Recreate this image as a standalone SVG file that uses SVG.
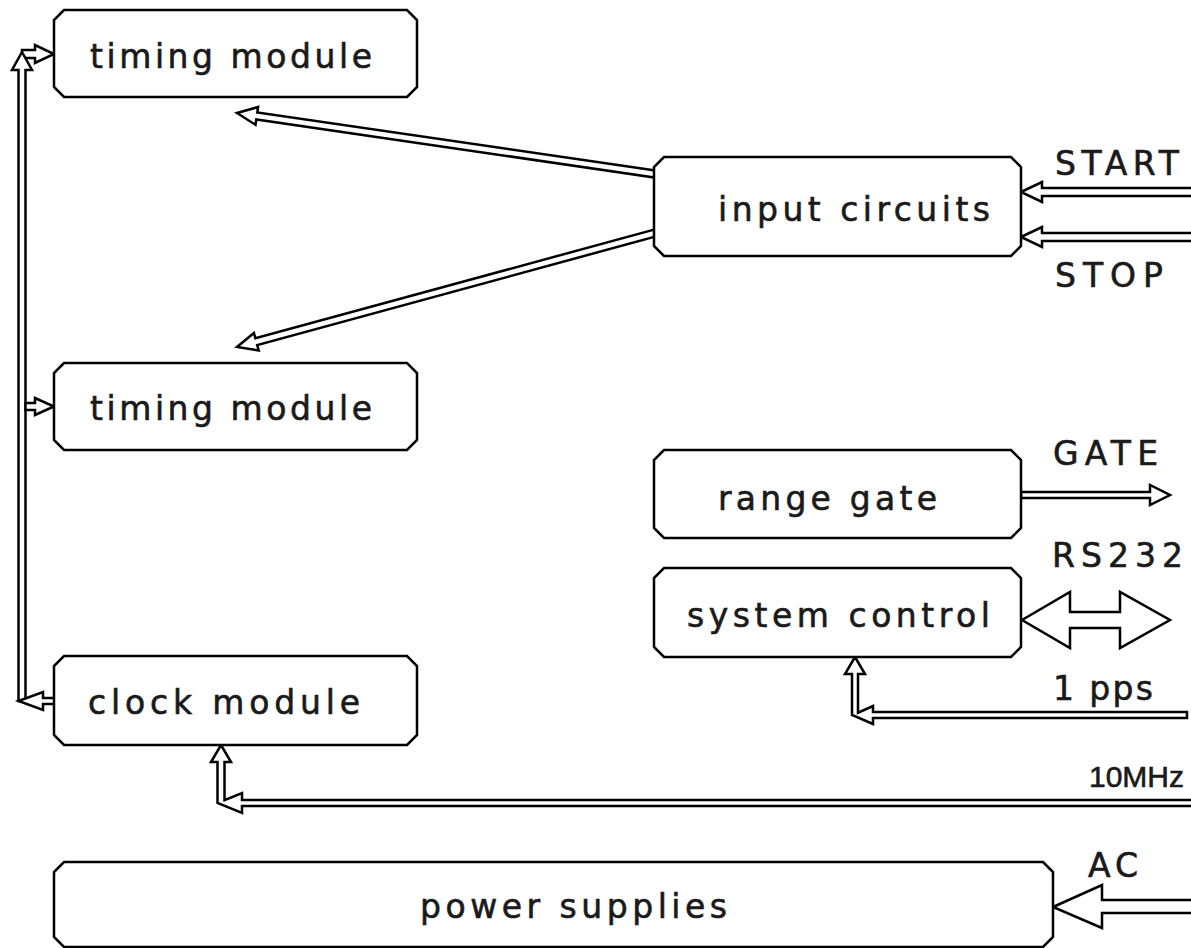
<svg xmlns="http://www.w3.org/2000/svg" width="1191" height="948" viewBox="0 0 1191 948">
<style>
.box{fill:#fff;stroke:#000;stroke-width:2.5;stroke-linejoin:miter}
.arr{fill:#fff;stroke:#000;stroke-width:2.5;stroke-linejoin:miter}
.t{font-family:"DejaVu Sans","Liberation Sans",Arial,sans-serif;font-size:33px;fill:#1a1a1a;stroke:#1a1a1a;stroke-width:0.6}
.n{font-family:"Liberation Sans",Arial,sans-serif;font-size:30px;fill:#1a1a1a;stroke:#1a1a1a;stroke-width:0.6}
</style>
<rect width="1191" height="948" fill="#fff"/>
<g id="connectors">
<polygon class="arr" points="22,50 35,50 35,45 54,54 35,63 35,58 22,58"/>
<polygon class="arr" points="22,52 32,70 25.5,70 25.5,701 18.5,701 18.5,70 12,70"/>
<polygon class="arr" points="25.5,403 35,403 35,398 54,406.5 35,415 35,410 25.5,410"/>
<polygon class="arr" points="18.5,701 43,692 43,698 55,698 55,704 43,704 43,710"/>
<polygon class="arr" points="655.5,170.5 257.3,112.4 258.1,107 237,113 255.5,124.8 256.3,119.4 654.5,177.5"/>
<polygon class="arr" points="654.1,229.6 255.4,338.3 253.9,333 237,347 258.7,350.4 257.2,345.1 655.9,236.4"/>
<polygon class="arr" points="1021,192 1042,182 1042,188 1195,188 1195,196 1042,196 1042,202"/>
<polygon class="arr" points="1021,237 1042,227 1042,233 1195,233 1195,241 1042,241 1042,247"/>
<polygon class="arr" points="1021,492 1150,492 1150,485 1170,495 1150,505 1150,498 1021,498"/>
<polygon class="arr" points="1022,620 1070,592 1070,612 1120,612 1120,592 1170,620 1120,648 1120,628 1070,628 1070,648"/>
<polygon class="arr" points="855,657 865,674 858,674 858,712.75 873,706 873,712 1187,712 1187,718 873,718 873,724 852,715 852,674 845,674"/>
<polygon class="arr" points="221,745 231,762 224.5,762 224.5,800.1 242,793 242,800 1195,800 1195,806 242,806 242,813 217.5,803 217.5,762 211,762"/>
<polygon class="arr" points="1053,907 1102,885 1102,900 1195,900 1195,913 1102,913 1102,928"/>
</g>
<g id="timing1">
<polygon class="box" points="64,10 407,10 417,20 417,87 407,97 64,97 54,87 54,20"/>
<text class="t" x="90" y="68" textLength="282" lengthAdjust="spacing">timing module</text>
</g>
<g id="timing2">
<polygon class="box" points="64,363 407,363 417,373 417,440 407,450 64,450 54,440 54,373"/>
<text class="t" x="90" y="420" textLength="282" lengthAdjust="spacing">timing module</text>
</g>
<g id="clock">
<polygon class="box" points="64,656 407,656 417,666 417,735 407,745 64,745 54,735 54,666"/>
<text class="t" x="88" y="714" textLength="272" lengthAdjust="spacing">clock module</text>
</g>
<g id="input">
<polygon class="box" points="664,157 1011,157 1021,167 1021,246 1011,256 664,256 654,246 654,167"/>
<text class="t" x="718" y="221" textLength="272" lengthAdjust="spacing">input circuits</text>
</g>
<g id="range">
<polygon class="box" points="664,450 1011,450 1021,460 1021,528 1011,538 664,538 654,528 654,460"/>
<text class="t" x="718" y="510" textLength="219" lengthAdjust="spacing">range gate</text>
</g>
<g id="sysctl">
<polygon class="box" points="664,568 1011,568 1021,578 1021,647 1011,657 664,657 654,647 654,578"/>
<text class="t" x="687" y="627" textLength="303" lengthAdjust="spacing">system control</text>
</g>
<g id="power">
<polygon class="box" points="64,862 1043,862 1053,872 1053,937 1043,947 64,947 54,937 54,872"/>
<text class="t" x="420" y="918" textLength="307" lengthAdjust="spacing">power supplies</text>
</g>
<g id="labels">
<text class="t" x="1055" y="175" textLength="124" lengthAdjust="spacing">START</text>
<text class="t" x="1055" y="287" textLength="108" lengthAdjust="spacing">STOP</text>
<text class="t" x="1053" y="465" textLength="105" lengthAdjust="spacing">GATE</text>
<text class="t" x="1052" y="567" textLength="131" lengthAdjust="spacing">RS232</text>
<text class="t" x="1053" y="700" textLength="100" lengthAdjust="spacing">1 pps</text>
<text class="n" x="1089" y="787">10MHz</text>
<text class="t" x="1088" y="877" textLength="50" lengthAdjust="spacing">AC</text>
</g>
</svg>
